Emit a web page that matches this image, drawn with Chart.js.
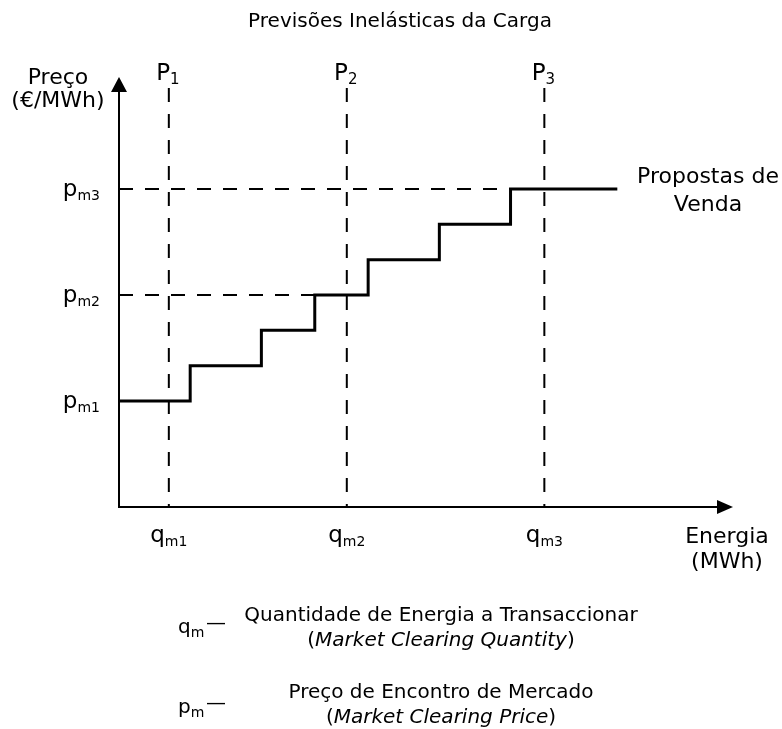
<!DOCTYPE html>
<html>
<head>
<meta charset="utf-8">
<title>Previsões Inelásticas da Carga</title>
<script src="https://cdn.jsdelivr.net/npm/chart.js@4.4.1/dist/chart.umd.min.js"></script>
<style>
  body { margin: 0; background: #fff; }
  canvas { display: block; }
</style>
</head>
<body>
<canvas id="chart" width="782" height="729"></canvas>
<script>
// offer blocks: start of each block on the energy axis and its price level
const blockStarts = [0, 4, 8, 11, 14, 18, 22, 28];
const blockPrices = [3, 4, 5, 6, 7, 8, 9, 9];

// inelastic load forecasts P1..P3 and the resulting clearing points
const forecastNames = ["1", "2", "3"];
const clearingQty = [2.8, 12.8, 23.9];
const clearingPrice = [3, 6, 9];
const clearingSubs = ["m1", "m2", "m3"];

const energyMax = 34.5;
const priceMax = 12.17;
const forecastTop = 11.86;

const FONT = "'DejaVu Sans', Verdana, sans-serif";

// horizontal dashed guides run from the price axis to where the offer curve reaches that price
function reachQty(p) {
  const i = blockPrices.indexOf(p);
  return blockStarts[i];
}

const dashed = {
  borderColor: "#000",
  borderWidth: 2,
  borderDash: [14, 12],
  pointRadius: 0,
  fill: false,
};

const datasets = [];
clearingQty.forEach((q) => {
  datasets.push({ ...dashed, data: [{ x: q, y: forecastTop }, { x: q, y: 0 }] });
});
clearingPrice.forEach((p) => {
  const end = reachQty(p);
  if (end > 0) datasets.push({ ...dashed, data: [{ x: 0, y: p }, { x: end, y: p }] });
});
datasets.push({
  label: "Propostas de Venda",
  data: blockStarts.map((x, i) => ({ x: x, y: blockPrices[i] })),
  stepped: "before",
  borderColor: "#000",
  borderWidth: 3,
  borderJoinStyle: "miter",
  pointRadius: 0,
  fill: false,
});

function subText(ctx, base, sub, x, y, align, size, subSize) {
  ctx.font = size + "px " + FONT;
  const wb = ctx.measureText(base).width;
  ctx.font = subSize + "px " + FONT;
  const ws = ctx.measureText(sub).width;
  let left = x;
  if (align === "center") left = x - (wb + ws) / 2;
  if (align === "right") left = x - (wb + ws);
  ctx.textAlign = "left";
  ctx.font = size + "px " + FONT;
  ctx.fillText(base, left, y);
  ctx.font = subSize + "px " + FONT;
  ctx.fillText(sub, left + wb, y + 4);
  return left + wb + ws;
}

function centered(ctx, text, x, y, size, style) {
  ctx.font = (style || "") + " " + size + "px " + FONT;
  ctx.textAlign = "center";
  ctx.fillText(text, x, y);
}

// "(" + italic words + ")" centred as one line
function mixedLine(ctx, text, x, y, size) {
  const up = size + "px " + FONT;
  const it = "italic " + size + "px " + FONT;
  ctx.font = up;
  const wp = ctx.measureText("(").width;
  const wq = ctx.measureText(")").width;
  ctx.font = it;
  const wt = ctx.measureText(text).width;
  let left = x - (wp + wt + wq) / 2;
  ctx.textAlign = "left";
  ctx.font = up;
  ctx.fillText("(", left, y);
  ctx.font = it;
  ctx.fillText(text, left + wp, y);
  ctx.font = up;
  ctx.fillText(")", left + wp + wt, y);
}

const drawing = {
  id: "drawing",
  afterDatasetsDraw(chart) {
    const ctx = chart.ctx;
    const xs = chart.scales.x;
    const ys = chart.scales.y;
    const x0 = xs.getPixelForValue(0);
    const y0 = ys.getPixelForValue(0);
    const yTop = ys.getPixelForValue(priceMax);
    const xEnd = xs.getPixelForValue(energyMax);

    ctx.save();
    ctx.strokeStyle = "#000";
    ctx.fillStyle = "#000";
    ctx.lineWidth = 2;
    ctx.setLineDash([]);
    ctx.beginPath();
    ctx.moveTo(x0, y0 + 1);
    ctx.lineTo(x0, yTop + 12);
    ctx.moveTo(x0 - 1, y0);
    ctx.lineTo(xEnd - 12, y0);
    ctx.stroke();

    ctx.beginPath();
    ctx.moveTo(x0, yTop);
    ctx.lineTo(x0 - 8, yTop + 15);
    ctx.lineTo(x0 + 8, yTop + 15);
    ctx.closePath();
    ctx.fill();
    ctx.beginPath();
    ctx.moveTo(xEnd, y0);
    ctx.lineTo(xEnd - 16, y0 - 7);
    ctx.lineTo(xEnd - 16, y0 + 7);
    ctx.closePath();
    ctx.fill();

    ctx.textBaseline = "alphabetic";

    // title
    centered(ctx, "Previsões Inelásticas da Carga", 400, 27, 20);

    // axis titles
    centered(ctx, "Preço", 58, 84, 22);
    centered(ctx, "(€/MWh)", 58, 107, 22);
    centered(ctx, "Energia", 727, 543, 22);
    centered(ctx, "(MWh)", 727, 568, 22);

    // forecast labels and clearing ticks
    clearingQty.forEach((q, i) => {
      const px = xs.getPixelForValue(q);
      subText(ctx, "P", forecastNames[i], px - 1, 80, "center", 23, 15);
      subText(ctx, "q", clearingSubs[i], px, 542, "center", 23, 14);
    });
    clearingPrice.forEach((p, i) => {
      const py = ys.getPixelForValue(p);
      subText(ctx, "p", clearingSubs[i], x0 - 19, py + 7, "right", 23, 14);
    });

    // curve label
    const last = blockPrices.length - 1;
    const ly = ys.getPixelForValue(blockPrices[last]);
    centered(ctx, "Propostas de", 708, ly - 6, 22);
    centered(ctx, "Venda", 708, ly + 22, 22);

    // notes
    subText(ctx, "q", "m", 178, 633, "left", 20, 14);
    ctx.font = "20px " + FONT;
    ctx.textAlign = "left";
    ctx.fillText("—", 206, 629);
    centered(ctx, "Quantidade de Energia a Transaccionar", 441, 621, 20);
    mixedLine(ctx, "Market Clearing Quantity", 441, 646, 20);

    subText(ctx, "p", "m", 178, 713, "left", 20, 14);
    ctx.font = "20px " + FONT;
    ctx.textAlign = "left";
    ctx.fillText("—", 206, 709);
    centered(ctx, "Preço de Encontro de Mercado", 441, 698, 20);
    mixedLine(ctx, "Market Clearing Price", 441, 723, 20);

    ctx.restore();
  },
};

new Chart(document.getElementById("chart"), {
  type: "line",
  data: { datasets: datasets },
  options: {
    responsive: false,
    animation: false,
    layout: { padding: { left: 119, right: 49, top: 77, bottom: 222 } },
    scales: {
      x: { type: "linear", min: 0, max: energyMax, display: false },
      y: { type: "linear", min: 0, max: priceMax, display: false },
    },
    plugins: {
      legend: { display: false },
      tooltip: { enabled: false },
      title: { display: false },
    },
  },
  plugins: [drawing],
});
</script>
</body>
</html>
